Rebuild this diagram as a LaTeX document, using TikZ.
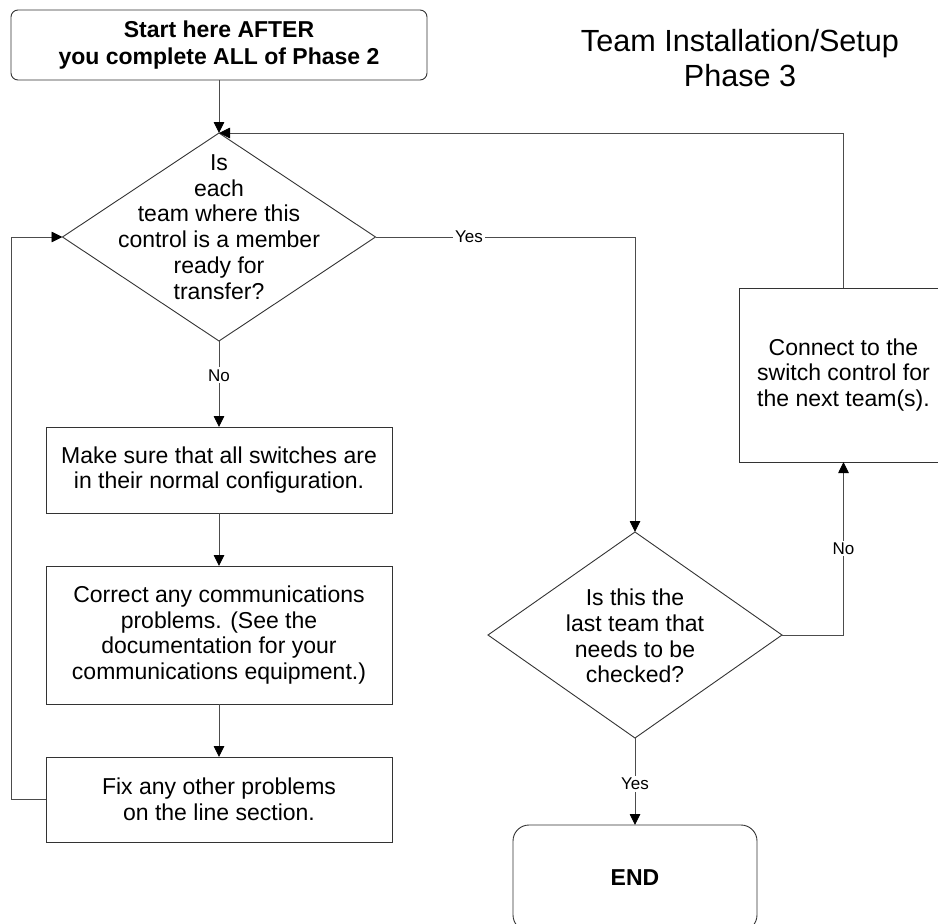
\documentclass[tikz,border=0pt]{standalone}
\usepackage{fontspec}
\setmainfont{Liberation Sans}
\usetikzlibrary{shapes.geometric,arrows.meta}
\begin{document}
\begin{tikzpicture}[x=1pt,y=-1pt,
  line width=0.9pt,
  conn/.style={draw=black!70, -{Triangle[length=11pt,width=10.5pt,black]}},
  box/.style={draw=black!80, rectangle, inner sep=0pt, outer sep=0pt, align=center,
    font=\fontsize{23}{25.7}\selectfont},
  boldbox/.style={box, font=\bfseries\fontsize{23}{27}\selectfont},
  decision/.style={draw=black!80, diamond, inner sep=0pt, outer sep=0pt},
  dtext/.style={align=center, inner sep=0pt, font=\fontsize{23}{25.7}\selectfont},
  lab/.style={fill=white, inner sep=2pt, font=\fontsize{17}{18}\selectfont},
  titletext/.style={align=center, inner sep=0pt, font=\fontsize{30.6}{34.5}\selectfont},
]
\clip (0,0) rectangle (938,924);

\node[boldbox, rounded corners=7pt, minimum width=416pt, minimum height=70pt] (start) at (219,45)
  {Start here AFTER\\you complete ALL of Phase 2};
\node[titletext] (title) at (740,58) {Team Installation/Setup\\Phase 3};

\node[decision, minimum width=313pt, minimum height=208pt] (d1) at (219,237) {};
\node[dtext] (d1t) at (219,227) {Is\\each\\team where this\\control is a member\\ready for\\transfer?};

\node[box, minimum width=346pt, minimum height=86pt] (make) at (219,470)
  {Make sure that all switches are\\in their normal configuration.};
\node[box, minimum width=346pt, minimum height=138pt] (correct) at (219,635)
  {Correct any communications\\problems. (See the\\documentation for your\\communications equipment.)};
\node[box, minimum width=346pt, minimum height=85pt] (fix) at (219,799.5)
  {Fix any other problems\\on the line section.};

\node[decision, minimum width=294pt, minimum height=206pt] (d2) at (635,635) {};
\node[dtext] (d2t) at (635,636) {Is this the\\last team that\\needs to be\\checked?};

\node[boldbox, rounded corners=16pt, minimum width=244pt, minimum height=106pt] (end) at (635,878) {END};

\node[box, minimum width=209pt, minimum height=174pt] (connect) at (843.5,375)
  {Connect to the\\switch control for\\the next team(s).};

\draw[conn] (start.south) -- (d1.north);
\draw[conn] (d1.south) -- node[lab, pos=0.4] {No} (make.north);
\draw[conn] (make.south) -- (correct.north);
\draw[conn] (correct.south) -- (fix.north);
\draw[conn] (fix.west) -- ++(-35,0) |- (d1.west);
\draw[conn] (d1.east) -| node[lab, pos=0.18] {Yes} (d2.north);
\draw[conn] (d2.east) -| node[lab, pos=0.75] {No} (connect.south);
\draw[conn] (d2.south) -- node[lab, pos=0.53] {Yes} (end.north);
\draw[conn] (connect.north) |- (d1.north);
\end{tikzpicture}
\end{document}
